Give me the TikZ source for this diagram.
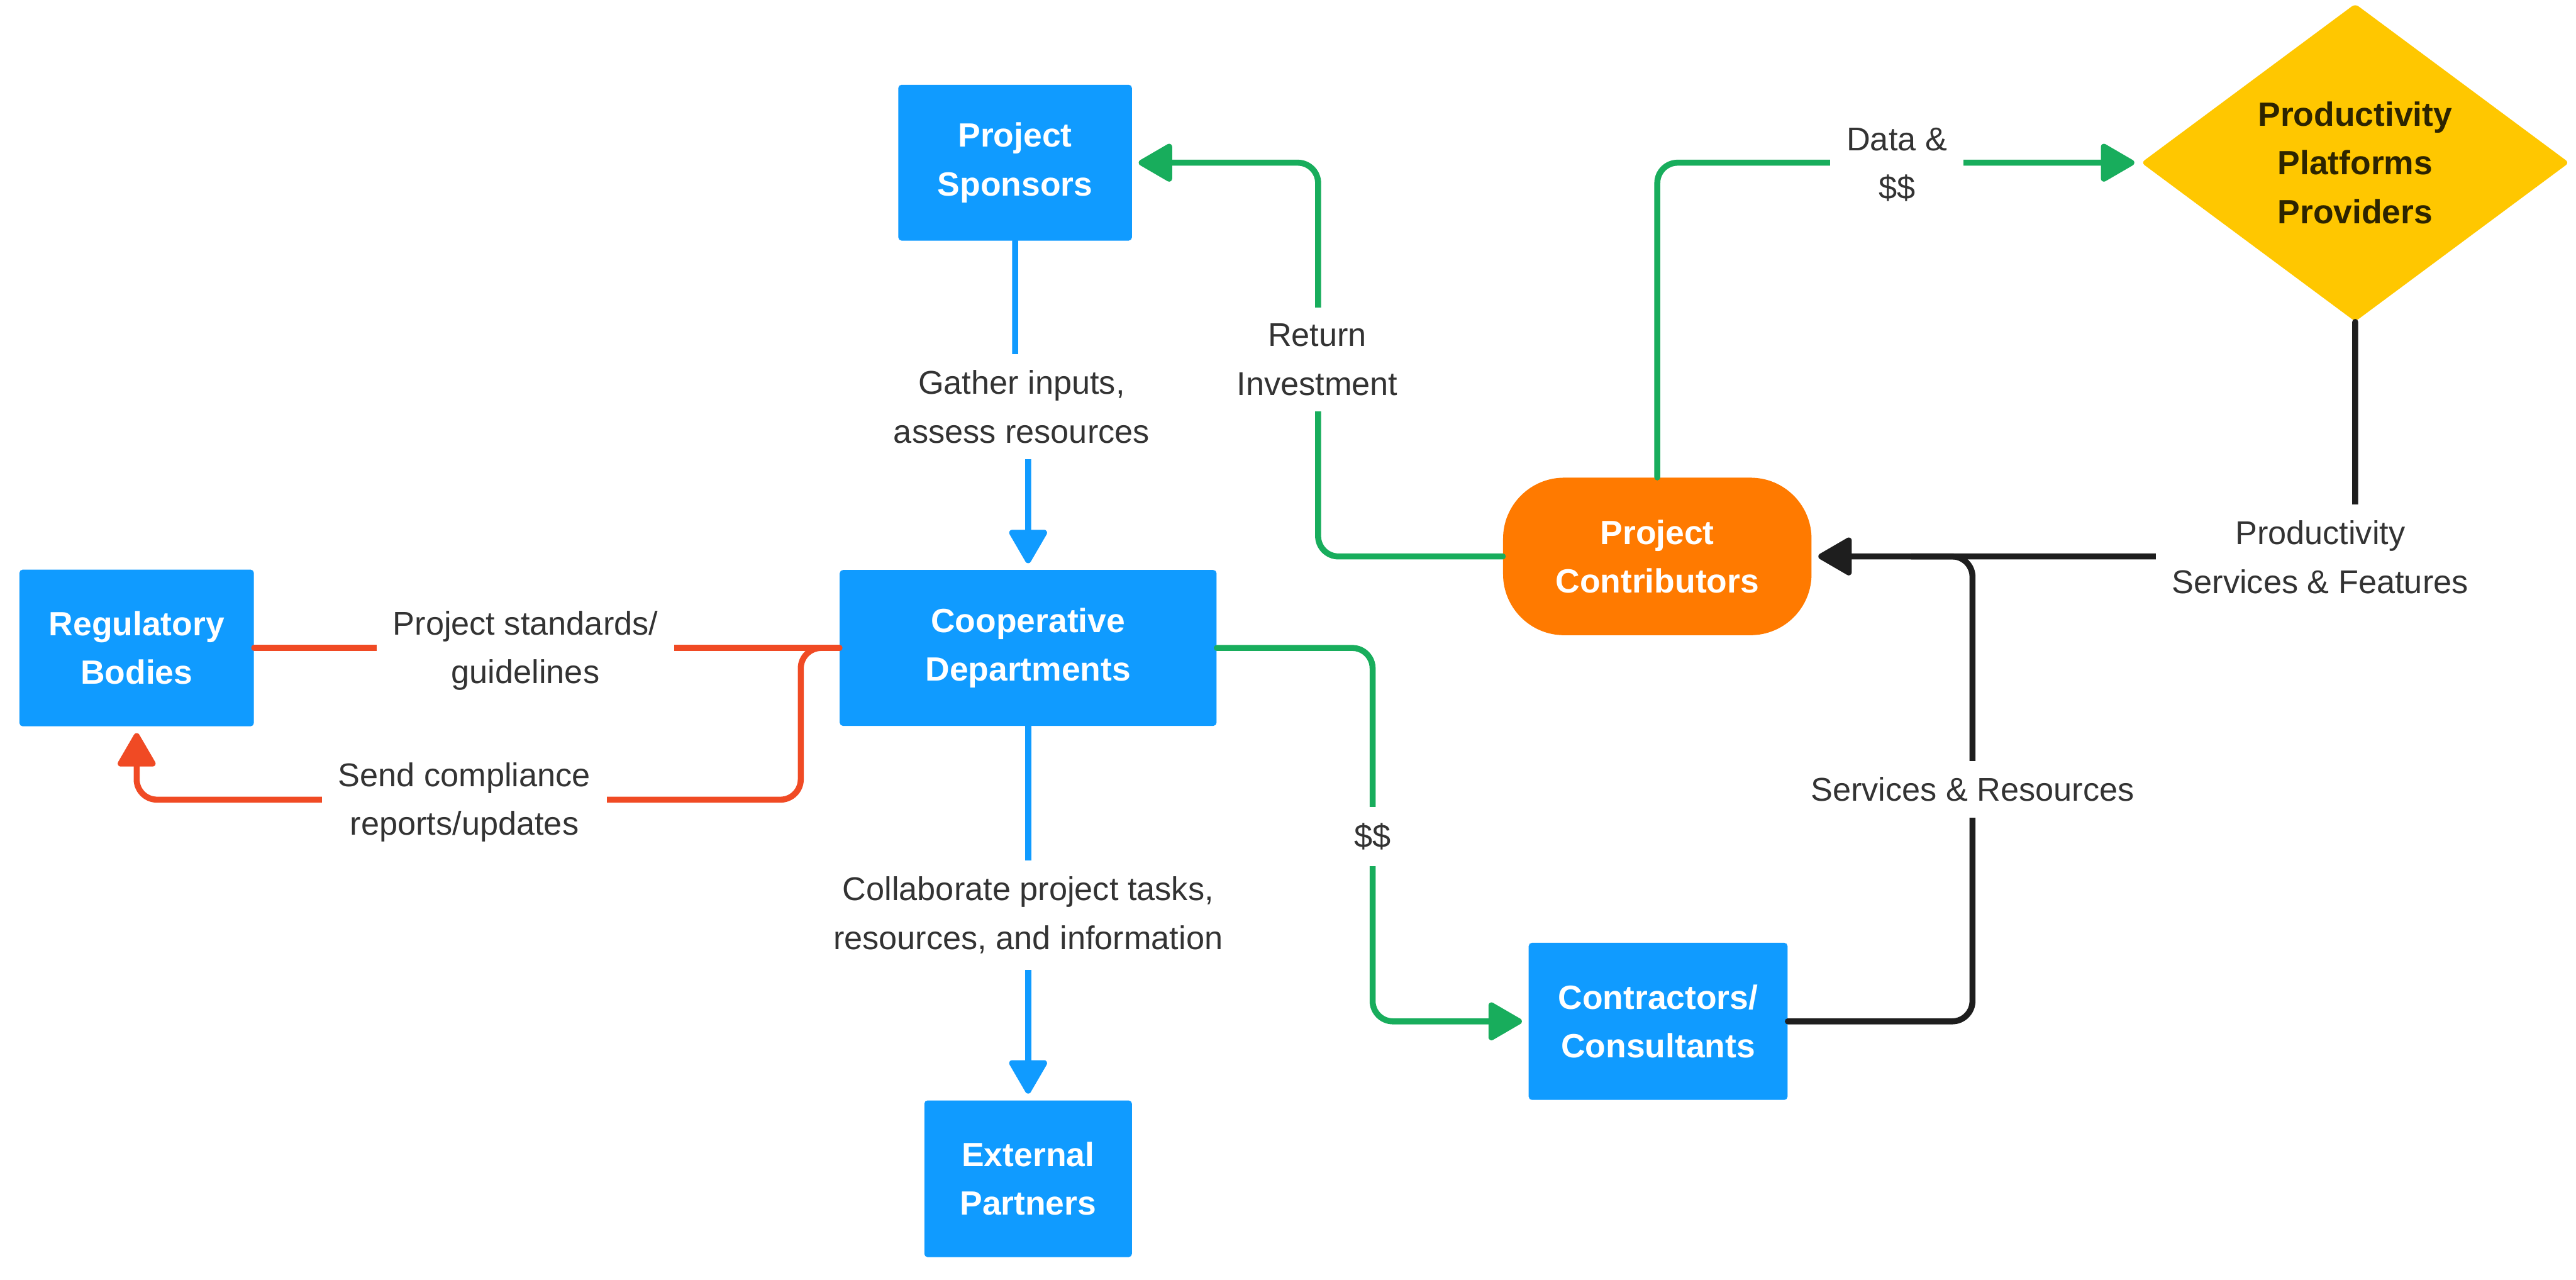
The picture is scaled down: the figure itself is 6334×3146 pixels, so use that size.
\documentclass[tikz,border=0pt]{standalone}
\usepackage{fontspec}
\setmainfont{Liberation Sans}
\usetikzlibrary{arrows.meta,shapes.geometric}
\definecolor{cblue}{RGB}{16,155,255}
\definecolor{cgreen}{RGB}{24,173,92}
\definecolor{cred}{RGB}{240,74,36}
\definecolor{corange}{RGB}{255,122,0}
\definecolor{cyellow}{RGB}{255,199,0}
\definecolor{cblack}{RGB}{30,30,30}
\definecolor{ctext}{RGB}{51,51,51}
\definecolor{cdark}{RGB}{45,36,0}
\begin{document}
\begin{tikzpicture}[x=0.01cm,y=-0.01cm,
  box/.style={rectangle, fill=cblue, rounded corners=0.08cm, text=white, font=\fontsize{23.5}{34}\selectfont\bfseries, align=center, inner sep=0},
  lbl/.style={fill=white, text=ctext, font=\fontsize{23}{34}\selectfont, align=center, inner sep=0.4cm},
  conn/.style={line width=4.2pt, rounded corners=0.5cm, line cap=round},
  tip/.style={-{Triangle[length=0.9cm,width=1.0cm,round]}, shorten >=0.16cm},
]
\fill[white] (0,0) rectangle (6334,3146);

% nodes
\node[box, minimum width=5.74cm, minimum height=3.83cm] (sp) at (2496,400) {Project\\Sponsors};
\node[box, minimum width=9.26cm, minimum height=3.83cm] (coop) at (2528,1593) {Cooperative\\Departments};
\node[box, minimum width=5.76cm, minimum height=3.85cm] (reg) at (336,1593) {Regulatory\\Bodies};
\node[box, minimum width=5.10cm, minimum height=3.85cm] (ext) at (2528,2898) {External\\Partners};
\node[box, minimum width=6.36cm, minimum height=3.86cm] (con) at (4077,2511) {Contractors/\\Consultants};
\node[box, fill=corange, rounded corners=1.5cm, minimum width=7.58cm, minimum height=3.87cm] (pc) at (4075,1368) {Project\\Contributors};
\node[diamond, fill=cyellow, text=cdark, font=\fontsize{23.5}{34}\selectfont\bfseries, align=center, inner sep=0, aspect=1.35, minimum width=10.52cm, minimum height=7.81cm, rounded corners=0.1cm] (prov) at (5791,400) {Productivity\\Platforms\\Providers};

% connectors
\draw[conn, cblue, tip] (sp.south) -- (2496,997) -- (2528,997) -- (coop.north);
\draw[conn, cgreen, tip] (pc.west) -| (3241,400) -- (sp.east);
\draw[conn, cgreen, tip] (pc.north) |- (prov.west);
\draw[conn, cblack, tip] (prov.south) |- (pc.east);
\draw[conn, cblack] (con.east) -| (4850,1368) -- (4700,1368);
\draw[conn, cgreen, tip] (coop.east) -| (3375,2050) |- (con.west);
\draw[conn, cblue, tip] (coop.south) -- (ext.north);
\draw[conn, cred] (reg.east) -- (coop.west);
\draw[conn, cred, tip] (coop.west) -| (1969,1966) -| (reg.south);

% labels
\node[lbl] (l1) at (2512,1000) {Gather inputs,\\assess resources};
\node[lbl] (l2) at (3239,884) {Return\\Investment};
\node[lbl] (l3) at (4664,405) {Data \&\\\$\$};
\node[lbl] (l4) at (5705,1370) {Productivity\\Services \& Features};
\node[lbl] (l5) at (4850,1941) {Services \& Resources};
\node[lbl] (l6) at (3375,2056) {\$\$};
\node[lbl] (l7) at (2528,2250) {Collaborate project tasks,\\resources, and information};
\node[lbl] (l8) at (1292,1600) {Project standards/\\guidelines};
\node[lbl] (l9) at (1142,1972) {Send compliance\\reports/updates};
\end{tikzpicture}
\end{document}
